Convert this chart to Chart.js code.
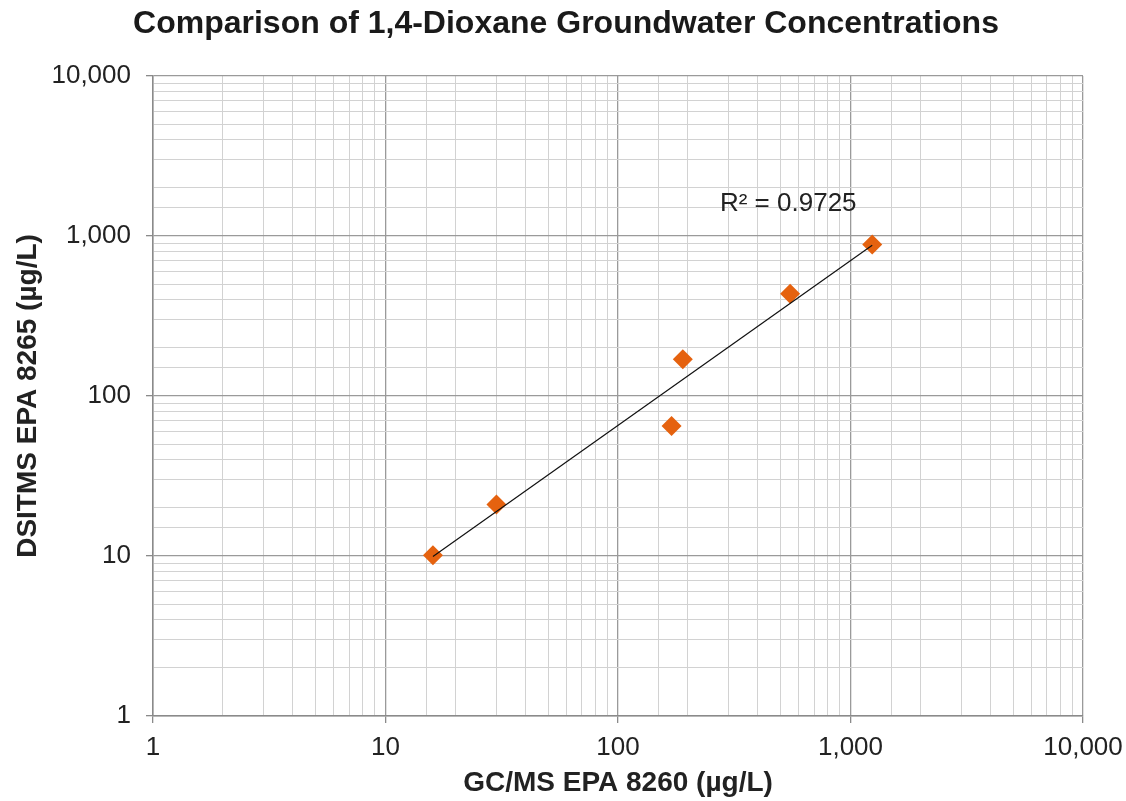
<!DOCTYPE html>
<html>
<head>
<meta charset="utf-8">
<title>Comparison of 1,4-Dioxane Groundwater Concentrations</title>
<script src="https://cdn.jsdelivr.net/npm/chart.js@4/dist/chart.umd.min.js"></script>
<style>
  html, body { margin: 0; padding: 0; background: #fff; }
  #wrap { width: 1126px; height: 801px; }
</style>
</head>
<body>
<div id="wrap"><canvas id="myChart"></canvas></div>
<script>
// GC/MS (x) vs DSITMS (y) results, µg/L
var gcmsValues = [16, 30, 170, 190, 550, 1240];
var dsitmsValues = [10.1, 21, 65, 170, 435, 885];

// axis range and label for the fit
var axisMin = 1;
var axisMax = 10000;
var chartTitle = "Comparison of 1,4-Dioxane Groundwater Concentrations";
var rSquaredLabel = "R\u00b2 = 0.9725";
var labelAt = { x: 280, y: 1600 };

function isPow10(v) {
    var l = Math.log10(v);
    return Math.abs(l - Math.round(l)) < 1e-9;
}

// power trendline: log10(y) = a + b * log10(x)
function powerFit(xs, ys) {
    var n = xs.length, sx = 0, sy = 0, sxx = 0, sxy = 0;
    for (var i = 0; i < n; i++) {
        var lx = Math.log10(xs[i]), ly = Math.log10(ys[i]);
        sx += lx; sy += ly; sxx += lx * lx; sxy += lx * ly;
    }
    var b = (n * sxy - sx * sy) / (n * sxx - sx * sx);
    var a = (sy - b * sx) / n;
    return function(x) { return Math.pow(10, a + b * Math.log10(x)); };
}

var fit = powerFit(gcmsValues, dsitmsValues);
var xLo = Math.min.apply(null, gcmsValues);
var xHi = Math.max.apply(null, gcmsValues);

var points = gcmsValues.map(function(x, i) { return { x: x, y: dsitmsValues[i] }; });
var trend = [{ x: xLo, y: fit(xLo) }, { x: xHi, y: fit(xHi) }];

var FONT = "'Liberation Sans', Arial, sans-serif";

function axisOpts(titleText, titlePad) {
    return {
        type: 'logarithmic',
        min: axisMin,
        max: axisMax,
        border: { color: '#8a8a8a', width: 1.5 },
        grid: {
            color: function(ctx) { return ctx.tick && isPow10(ctx.tick.value) ? '#9a9a9a' : '#d2d2d2'; },
            lineWidth: function(ctx) { return ctx.tick && isPow10(ctx.tick.value) ? 1.3 : 1; },
            tickColor: function(ctx) { return ctx.tick && isPow10(ctx.tick.value) ? '#8a8a8a' : 'rgba(0,0,0,0)'; },
            tickLength: 7
        },
        ticks: {
            autoSkip: false,
            maxRotation: 0,
            color: '#222',
            font: { family: FONT, size: 26 },
            callback: function(v) { return isPow10(v) ? Number(v).toLocaleString('en-US') : ''; }
        },
        title: {
            display: true,
            text: titleText,
            color: '#222',
            font: { family: FONT, size: 28, weight: 'bold' },
            padding: titlePad
        }
    };
}

var xAxis = axisOpts('GC/MS EPA 8260 (\u00b5g/L)', { top: 0, bottom: 1 });
xAxis.ticks.padding = 9;
xAxis.afterFit = function(scale) {
    scale.height = 85;
    // fixed room on the right for the last tick label
    scale.paddingLeft = 0;
    scale.paddingRight = 43;
};

var yAxis = axisOpts('DSITMS EPA 8265 (\u00b5g/L)', { top: 11, bottom: 0 });
yAxis.ticks.padding = 15;
yAxis.afterFit = function(scale) { scale.width = 153; };

// chart heading, centred on the whole canvas
var headingPlugin = {
    id: 'heading',
    afterDraw: function(chart) {
        var ctx = chart.ctx;
        ctx.save();
        ctx.font = 'bold 32px ' + FONT;
        ctx.fillStyle = '#1a1a1a';
        ctx.textAlign = 'center';
        ctx.textBaseline = 'middle';
        ctx.fillText(chartTitle, chart.width / 2 + 3, 24);
        ctx.restore();
    }
};

// draws the R² text next to the trendline
var r2Label = {
    id: 'r2Label',
    afterDatasetsDraw: function(chart) {
        var ctx = chart.ctx;
        var px = chart.scales.x.getPixelForValue(labelAt.x);
        var py = chart.scales.y.getPixelForValue(labelAt.y);
        ctx.save();
        ctx.font = '26px ' + FONT;
        ctx.fillStyle = '#222';
        ctx.textAlign = 'left';
        ctx.textBaseline = 'middle';
        ctx.fillText(rSquaredLabel, px - 2, py);
        ctx.restore();
    }
};

const ctx = document.getElementById('myChart').getContext('2d');
const myChart = new Chart(ctx, {
    type: 'scatter',
    data: {
        datasets: [{
            label: 'Power fit',
            data: trend,
            showLine: true,
            borderColor: '#111',
            borderWidth: 1.2,
            pointRadius: 0,
            fill: false
        }, {
            label: 'Samples',
            data: points,
            pointStyle: 'rectRot',
            pointRadius: 10,
            pointHoverRadius: 10,
            backgroundColor: '#e5620f',
            borderColor: '#e5620f',
            borderWidth: 0
        }]
    },
    options: {
        responsive: true,
        maintainAspectRatio: false,
        animation: false,
        layout: { padding: { left: 0, right: 0, top: 76, bottom: 0 } },
        plugins: {
            legend: { display: false },
            tooltip: { enabled: false },
            title: { display: false }
        },
        scales: { x: xAxis, y: yAxis }
    },
    plugins: [headingPlugin, r2Label]
});
</script>
</body>
</html>
